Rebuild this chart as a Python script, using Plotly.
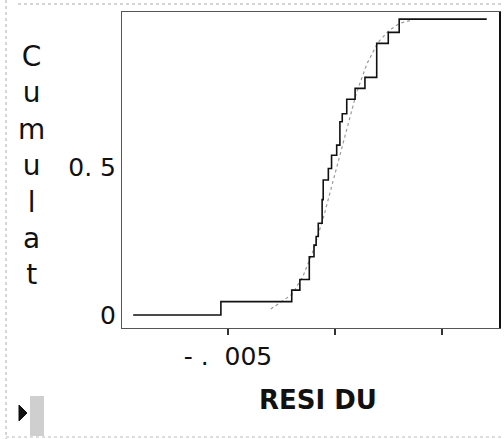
import plotly.graph_objects as go

step_x = [-0.00943, -0.00533, -0.00202, -0.00164, -0.00120, -0.00098, -0.00088,
          -0.00078, -0.00060, -0.00055, -0.00031, -0.00016, 0.00008, 0.00023,
          0.00034, 0.00055, 0.00094, 0.00140, 0.00195, 0.00249, 0.00300, 0.00709]
step_y = [0.0, 0.045, 0.084, 0.12, 0.197, 0.236, 0.265, 0.31, 0.39, 0.456,
          0.495, 0.54, 0.574, 0.653, 0.68, 0.729, 0.766, 0.803, 0.918, 0.955,
          1.0, 1.0]

# Fitted (normal) cumulative curve
fit_x = [-0.0030, -0.0020, -0.0015, -0.0010, -0.0005, 0.0, 0.0005, 0.0010,
         0.0015, 0.0020, 0.0025, 0.0030, 0.0035]
fit_y = [0.02, 0.07, 0.13, 0.22, 0.34, 0.48, 0.62, 0.75, 0.85, 0.92, 0.96,
         0.985, 0.995]

NB = "\u00a0"
x_ticks = [-0.005, 0.0, 0.005]
x_tick_text = ["-" + NB + "." + NB + NB + "005", "", ""]
y_ticks = [0, 0.5]
y_tick_text = ["0", "0." + NB + "5"]

y_title = "Cumulat"
x_title = "RESI" + NB + "DU"

FONT = "DejaVu Sans, Verdana, sans-serif"

fig = go.Figure()
fig.add_trace(go.Scatter(x=fit_x, y=fit_y, mode="lines",
                         line=dict(color="#9a9a9a", width=1.2, dash="dot"),
                         showlegend=False, hoverinfo="skip"))
fig.add_trace(go.Scatter(x=step_x, y=step_y, mode="lines", line_shape="hv",
                         line=dict(color="#111111", width=1.6),
                         showlegend=False))

W, H = 504, 439
L, R, T, B = 122, 4, 12, 111
pw, ph = W - L - R, H - T - B

def px(xp):
    return (xp - L) / pw

def py(yp):
    return (H - B - yp) / ph

fig.update_layout(
    width=W, height=H,
    margin=dict(l=L, r=R, t=T, b=B),
    paper_bgcolor="white", plot_bgcolor="white",
    font=dict(family=FONT, color="#111111"),
    xaxis=dict(range=[-0.00995, 0.00771], tickvals=x_ticks, ticktext=x_tick_text,
               ticks="outside", ticklen=6, tickcolor="#333", tickwidth=1.5,
               showgrid=False, zeroline=False, showline=True, mirror=True,
               linecolor="#555555", linewidth=1, tickfont=dict(size=25, family=FONT),
               title=None),
    yaxis=dict(range=[-0.044, 1.024], tickvals=y_ticks, ticktext=y_tick_text,
               ticks="", showgrid=False, zeroline=False, showline=True, mirror=True,
               linecolor="#555555", linewidth=1, tickfont=dict(size=25, family=FONT),
               title=None),
)

# right frame edge is darker
fig.add_shape(type="line", xref="paper", yref="paper", x0=1, x1=1, y0=0, y1=1,
              line=dict(color="#111111", width=2))

# stacked vertical y title
fig.add_annotation(xref="paper", yref="paper", x=px(31), y=py(165),
                   text="<br>".join(list(y_title)), showarrow=False,
                   xanchor="center", yanchor="middle",
                   font=dict(size=28, family=FONT, color="#111111"))
# x title
fig.add_annotation(xref="paper", yref="paper", x=px(318), y=py(400),
                   text="<b>" + x_title + "</b>", showarrow=False,
                   xanchor="center", yanchor="middle",
                   font=dict(size=26, family=FONT, color="#111111"))

# outer window borders (light)
fig.add_shape(type="line", xref="paper", yref="paper", x0=px(18), x1=px(504),
              y0=py(4), y1=py(4), line=dict(color="#aaaaaa", width=1, dash="dot"))
fig.add_shape(type="line", xref="paper", yref="paper", x0=px(6), x1=px(6),
              y0=py(0), y1=py(439), line=dict(color="#aaaaaa", width=1, dash="dot"))
fig.add_shape(type="line", xref="paper", yref="paper", x0=px(6), x1=px(504),
              y0=py(437), y1=py(437), line=dict(color="#bbbbbb", width=1, dash="dot"))

# small corner icon
fig.add_shape(type="path", xref="paper", yref="paper",
              path=f"M {px(19)} {py(405)} L {px(27)} {py(413)} L {px(19)} {py(421)} Z",
              fillcolor="#111111", line=dict(color="#111111", width=1))
fig.add_shape(type="rect", xref="paper", yref="paper", x0=px(30), x1=px(44),
              y0=py(396), y1=py(436), fillcolor="#cfcfcf", line=dict(width=0))

fig.write_html("out.html")
